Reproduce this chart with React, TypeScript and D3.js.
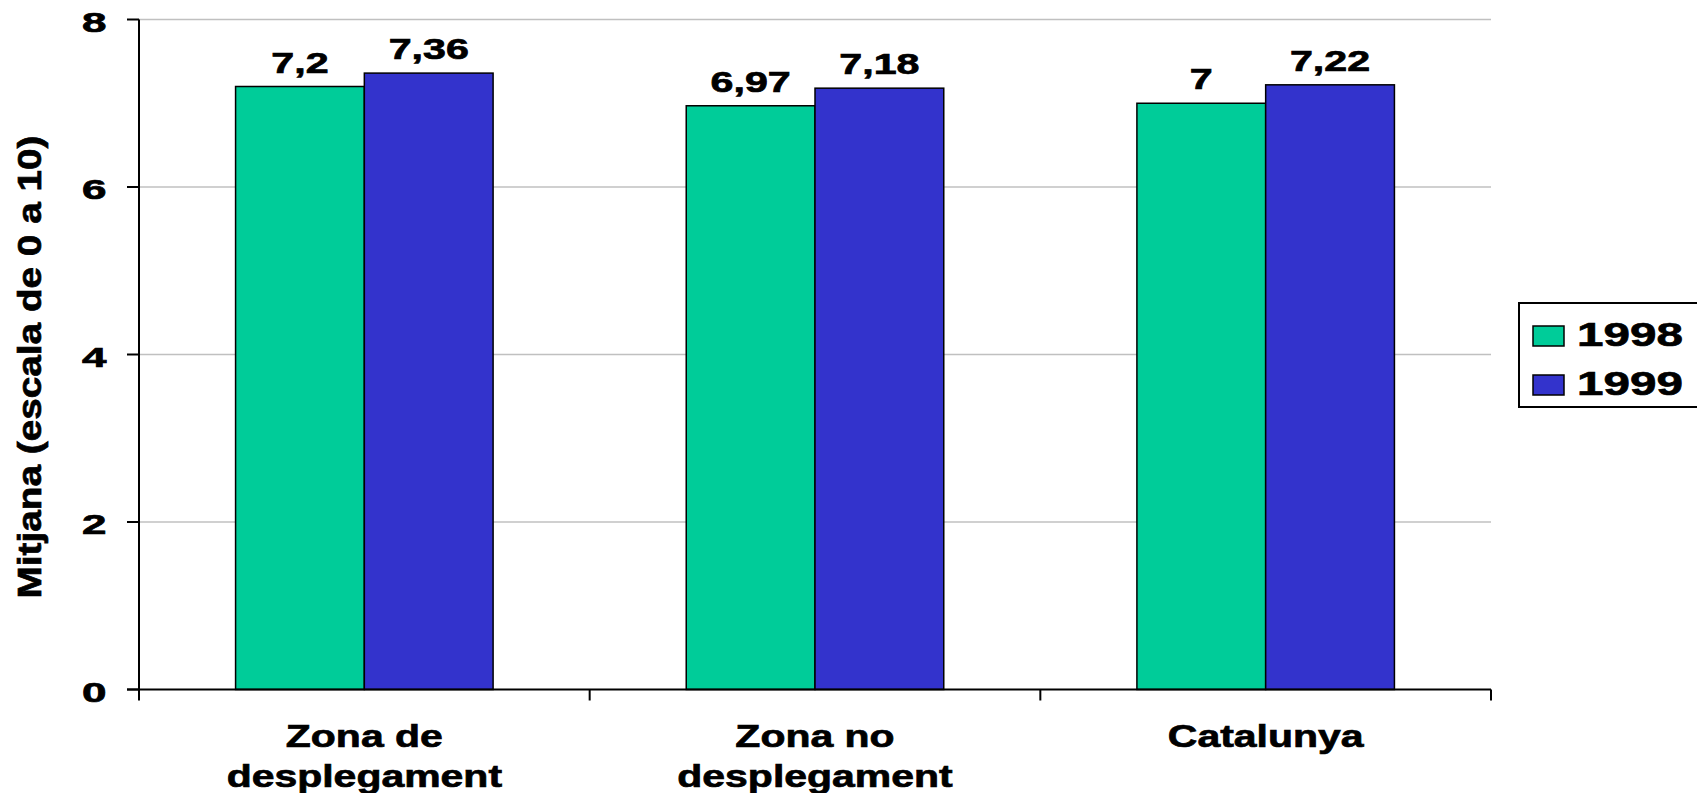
import React from "react";
import * as d3 from "d3";

const categories: string[][] = [
  ["Zona de", "desplegament"],
  ["Zona no", "desplegament"],
  ["Catalunya"],
];
const categoryKeys = ["Zona de desplegament", "Zona no desplegament", "Catalunya"];
const seriesNames = ["1998", "1999"];
const values1998 = [7.2, 6.97, 7.0];
const values1999 = [7.36, 7.18, 7.22];
const valueLabels1998 = ["7,2", "6,97", "7"];
const valueLabels1999 = ["7,36", "7,18", "7,22"];
const yTicks = [0, 2, 4, 6, 8];
const yTitle = "Mitjana (escala de 0 a 10)";
const colors = ["#00CC99", "#3333CC"];

const W = 1697;
const H = 793;
const FONT = "'Liberation Sans', Arial, sans-serif";

export default function App() {
  const left = 139;
  const right = 1491;
  const top = 19.5;
  const bottom = 689.5;

  const y = d3.scaleLinear().domain([0, 8]).range([bottom, top]);
  const x0 = d3.scaleBand<string>().domain(categoryKeys).range([left, right]).padding(0);
  const band = x0.bandwidth();
  const groupW = (band * 2) / 3.5;
  const x1 = d3.scaleBand<string>().domain(seriesNames).range([0, groupW]).padding(0);
  const seriesVals = [values1998, values1999];
  const seriesLabels = [valueLabels1998, valueLabels1999];
  const ts = { stroke: "#000", strokeWidth: 0.7 } as const;

  return (
    <svg width={W} height={H} style={{ position: "absolute", left: 0, top: 0, background: "#fff" }} fontFamily={FONT} fontWeight="bold">
      <rect x={0} y={0} width={W} height={H} fill="#fff" />
      {yTicks.filter((t) => t > 0).map((t) => (
        <line key={"g" + t} x1={left} x2={right} y1={y(t)} y2={y(t)} stroke="#c0c0c0" strokeWidth={1.5} />
      ))}
      {categoryKeys.map((c, ci) => {
        const gx = (x0(c) as number) + (band - groupW) / 2;
        return seriesNames.map((s, si) => {
          const v = seriesVals[si][ci];
          const bx = gx + (x1(s) as number);
          const bw = x1.bandwidth();
          return (
            <g key={c + s}>
              <rect x={bx} y={y(v)} width={bw} height={y(0) - y(v)} fill={colors[si]} stroke="#000" strokeWidth={1.5} />
              <text
                transform={`translate(${bx + bw / 2},${y(v) - 14}) scale(1.42,1)`}
                textAnchor="middle"
                fontSize={29}
                fill="#000"
                {...ts}
              >
                {seriesLabels[si][ci]}
              </text>
            </g>
          );
        });
      })}
      <line x1={left} x2={left} y1={top} y2={bottom} stroke="#000" strokeWidth={2} />
      {yTicks.map((t) => (
        <g key={"t" + t}>
          <line x1={left - 12} x2={left} y1={y(t)} y2={y(t)} stroke="#000" strokeWidth={2} />
          <text transform={`translate(106.5,${y(t) + 12}) scale(1.6,1)`} textAnchor="end" fontSize={27.5} fill="#000" {...ts}>
            {t}
          </text>
        </g>
      ))}
      <line x1={left - 12} x2={right} y1={bottom} y2={bottom} stroke="#000" strokeWidth={2} />
      {[...categoryKeys.map((c) => x0(c) as number), right].map((px, i) => (
        <line key={"xt" + i} x1={px} x2={px} y1={bottom} y2={bottom + 11} stroke="#000" strokeWidth={2} />
      ))}
      {categories.map((lines, ci) => {
        const cx = (x0(categoryKeys[ci]) as number) + band / 2;
        return lines.map((ln, li) => (
          <text
            key={ci + "-" + li}
            transform={`translate(${cx},${746.7 + li * 40.6}) scale(1.28,1)`}
            textAnchor="middle"
            fontSize={32}
            fill="#000"
            {...ts}
          >
            {ln}
          </text>
        ));
      })}
      <text transform={`translate(41,367) rotate(-90) scale(1.14,1)`} textAnchor="middle" fontSize={34} fill="#000" {...ts}>
        {yTitle}
      </text>
      <rect x={1519} y={303} width={200} height={104} fill="#fff" stroke="#000" strokeWidth={2} />
      {seriesNames.map((s, si) => (
        <g key={"l" + s}>
          <rect x={1533} y={326 + si * 49} width={31} height={20} fill={colors[si]} stroke="#000" strokeWidth={1.5} />
          <text transform={`translate(1577,${346 + si * 49.3}) scale(1.4,1)`} fontSize={34} fill="#000" {...ts}>
            {s}
          </text>
        </g>
      ))}
    </svg>
  );
}
